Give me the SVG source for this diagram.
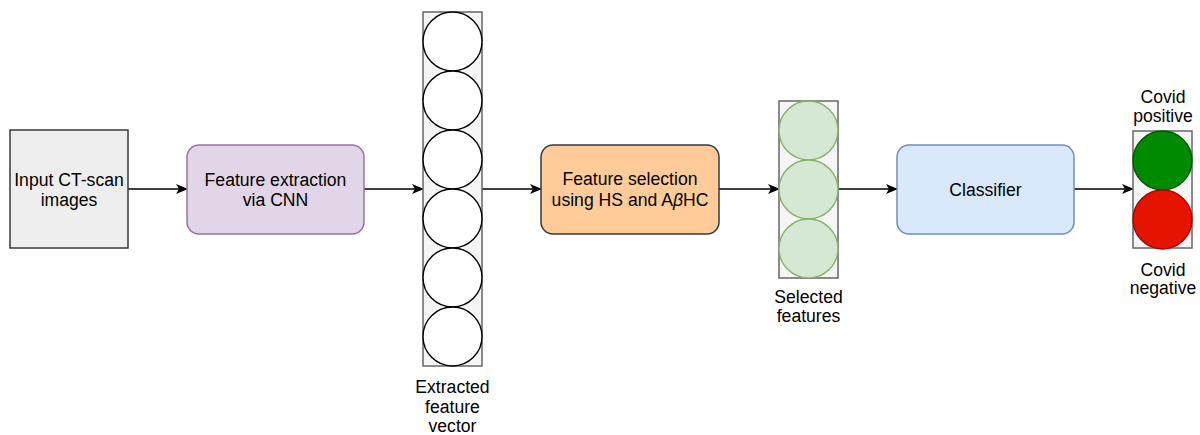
<svg xmlns="http://www.w3.org/2000/svg" width="1200" height="435" viewBox="0 0 1200 435">
  <defs>
    <marker id="arrow" viewBox="0 0 12 10" refX="11" refY="5" markerWidth="12" markerHeight="10" markerUnits="userSpaceOnUse" orient="auto">
      <path d="M0,0 L12,5 L0,10 L3,5 Z" fill="#000"/>
    </marker>
  </defs>
  <style>
    text { font-family: "Liberation Sans", Arial, sans-serif; font-size: 17.6px; fill: #000; text-anchor: middle; }
    .conn { stroke: #000; stroke-width: 1.5; fill: none; marker-end: url(#arrow); }
    .column { fill: #f5f5f5; stroke: #666; stroke-width: 1.5; }
    .unit { fill: #fff; stroke: #000; stroke-width: 1.4; }
    .sel { fill: #d5e8d4; stroke: #82b366; stroke-width: 1.4; }
  </style>
  <rect width="1200" height="435" fill="#fff"/>

  <!-- connectors -->
  <g id="connectors">
    <line class="conn" x1="128" y1="189" x2="187" y2="189"/>
    <line class="conn" x1="364" y1="189" x2="423" y2="189"/>
    <line class="conn" x1="482" y1="189" x2="541" y2="189"/>
    <line class="conn" x1="719" y1="189" x2="779" y2="189"/>
    <line class="conn" x1="838" y1="189" x2="897" y2="189"/>
    <line class="conn" x1="1074" y1="189" x2="1133" y2="189"/>
  </g>

  <!-- input images -->
  <g id="input">
    <rect x="10" y="130" width="118" height="118" fill="#eeeeee" stroke="#36393d" stroke-width="1.5"/>
    <text x="69" y="186">Input CT-scan</text>
    <text x="69" y="206">images</text>
  </g>

  <!-- CNN feature extraction -->
  <g id="extraction">
    <rect x="187" y="145" width="177" height="89" rx="12" fill="#e1d5e7" stroke="#9673a6" stroke-width="1.5"/>
    <text x="275.5" y="186">Feature extraction</text>
    <text x="275.5" y="206">via CNN</text>
  </g>

  <!-- extracted feature vector -->
  <g id="feature-vector">
    <rect class="column" x="423" y="12" width="59" height="354"/>
    <circle class="unit" cx="452.5" cy="41.5" r="29.5"/>
    <circle class="unit" cx="452.5" cy="100.5" r="29.5"/>
    <circle class="unit" cx="452.5" cy="159.5" r="29.5"/>
    <circle class="unit" cx="452.5" cy="218.5" r="29.5"/>
    <circle class="unit" cx="452.5" cy="277.5" r="29.5"/>
    <circle class="unit" cx="452.5" cy="336.5" r="29.5"/>
    <text x="452.5" y="393">Extracted</text>
    <text x="452.5" y="413">feature</text>
    <text x="452.5" y="432">vector</text>
  </g>

  <!-- feature selection -->
  <g id="selection">
    <rect x="541" y="145" width="178" height="89" rx="12" fill="#ffcc99" stroke="#36393d" stroke-width="1.5"/>
    <text x="630" y="185">Feature selection</text>
    <text x="630" y="206">using HS and A<tspan font-style="italic">β</tspan>HC</text>
  </g>

  <!-- selected features -->
  <g id="selected-features">
    <rect class="column" x="779" y="101" width="59" height="177"/>
    <circle class="sel" cx="808.5" cy="130.5" r="29.5"/>
    <circle class="sel" cx="808.5" cy="189.5" r="29.5"/>
    <circle class="sel" cx="808.5" cy="248.5" r="29.5"/>
    <text x="808.5" y="303">Selected</text>
    <text x="808.5" y="322">features</text>
  </g>

  <!-- classifier -->
  <g id="classifier">
    <rect x="897" y="145" width="177" height="89" rx="12" fill="#dae8fc" stroke="#6c8ebf" stroke-width="1.5"/>
    <text x="985.5" y="196">Classifier</text>
  </g>

  <!-- output classes -->
  <g id="output">
    <rect class="column" x="1133" y="131" width="59" height="117"/>
    <circle cx="1162.5" cy="160.5" r="29.5" fill="#008a00" stroke="#005700" stroke-width="1.4"/>
    <circle cx="1162.5" cy="219.5" r="29.5" fill="#e51400" stroke="#b20000" stroke-width="1.4"/>
    <text x="1163" y="103">Covid</text>
    <text x="1163" y="122">positive</text>
    <text x="1163" y="276">Covid</text>
    <text x="1163" y="294">negative</text>
  </g>
</svg>
